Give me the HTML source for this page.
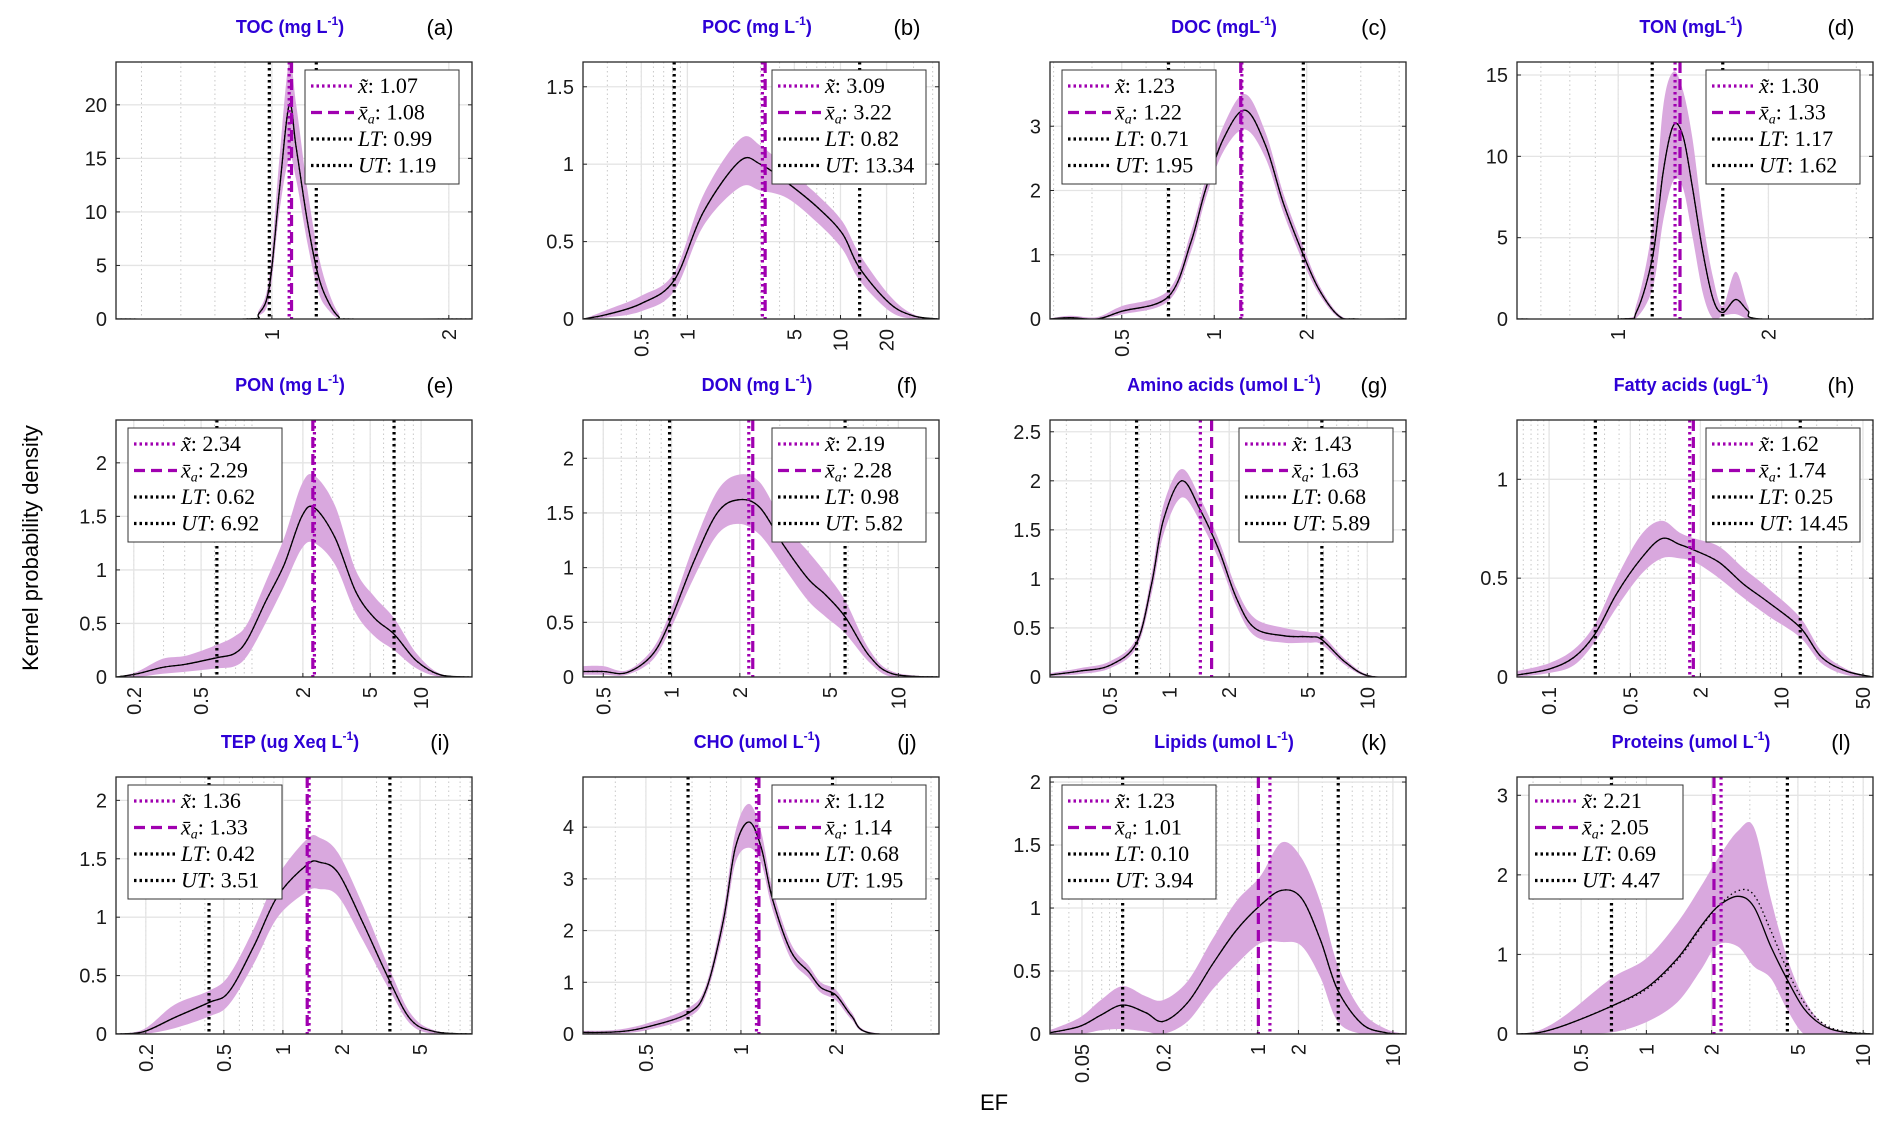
<!DOCTYPE html>
<html><head><meta charset="utf-8">
<style>
html,body{margin:0;padding:0;background:#fff;}
svg{display:block;}
</style></head>
<body>
<svg id="fig" width="1892" height="1130" viewBox="0 0 1892 1130" xmlns="http://www.w3.org/2000/svg">
<text x="0" y="0" transform="translate(38,548) rotate(-90)" text-anchor="middle" font-family="Liberation Sans, sans-serif" font-size="22" fill="#000">Kernel probability density</text>
<text x="994" y="1110" text-anchor="middle" font-family="Liberation Sans, sans-serif" font-size="22" fill="#000">EF</text>
</svg>
<script>
// ---- data arrays (x: EF, y: density) ----
const aX=[0.543,0.9,0.95,0.99,1.03,1.07,1.1,1.15,1.2,1.25,1.3,1.35,2.19];
const aY=[0,0,0.5,3,12,20,16,9,4,1.5,0.2,0,0];
const aHi=[0,0,0.8,4,15,24,20,12,6,2.5,0.5,0,0];
const aLo=[0,0,0.3,2,10,15,13,7,2.5,0.8,0,0,0];
const bX=[0.21,0.3,0.5,0.82,1.27,2.2,3.0,4.5,7.1,10.3,13.3,21,30,44];
const bY=[0,0.03,0.1,0.25,0.69,1.02,1.0,0.88,0.72,0.55,0.33,0.1,0.02,0];
const bHi=[0,0.06,0.15,0.3,0.8,1.16,1.12,0.97,0.8,0.63,0.42,0.15,0.03,0];
const bLo=[0,0.01,0.05,0.18,0.6,0.85,0.83,0.78,0.62,0.45,0.25,0.05,0,0];
const cX=[0.292,0.34,0.415,0.5,0.71,0.84,0.935,1.07,1.26,1.47,1.68,1.95,2.2,2.54,2.9,4.21];
const cY=[0,0.02,0.0,0.12,0.35,1.2,2.0,2.8,3.25,2.7,1.8,1.0,0.45,0.05,0,0];
const cHi=[0.01,0.05,0.03,0.2,0.45,1.35,2.15,3.0,3.5,2.9,1.95,1.12,0.52,0.08,0,0];
const cLo=[0,0,0,0.07,0.28,1.05,1.85,2.6,2.95,2.5,1.65,0.88,0.38,0.02,0,0];
const dX=[0.627,1.01,1.09,1.175,1.23,1.29,1.35,1.41,1.48,1.55,1.62,1.72,1.82,1.93,3.24];
const dY=[0,0,0.5,4,9,11.9,11.2,8,4,1.2,0.4,1.2,0.5,0,0];
const dHi=[0,0,1,6,13,15.2,14,11,6,2.5,0.8,2.9,0.8,0,0];
const dLo=[0,0,0.1,2,6,8.5,8,5,1.5,0,0.2,0.3,0,0,0];
const eX=[0.157,0.21,0.296,0.41,0.62,0.79,0.94,1.2,1.55,1.97,2.34,3.1,4.1,5.3,6.92,9.4,13,20];
const eY=[0,0.03,0.09,0.12,0.18,0.22,0.35,0.7,1.05,1.5,1.58,1.3,0.8,0.55,0.4,0.15,0.02,0];
const eHi=[0,0.05,0.17,0.2,0.3,0.38,0.5,0.88,1.3,1.8,1.88,1.6,1.0,0.75,0.55,0.22,0.03,0];
const eLo=[0,0,0.03,0.05,0.08,0.1,0.2,0.5,0.85,1.2,1.25,1.05,0.6,0.38,0.25,0.08,0,0];
const fX=[0.407,0.5,0.635,0.82,0.98,1.25,1.59,1.97,2.45,3.13,3.99,4.78,5.82,7.4,9.4,15.1];
const fY=[0.05,0.05,0.04,0.2,0.5,1.05,1.5,1.62,1.55,1.2,0.9,0.75,0.55,0.2,0.03,0];
const fHi=[0.1,0.1,0.06,0.25,0.58,1.2,1.7,1.85,1.78,1.4,1.15,0.95,0.7,0.26,0.05,0];
const fLo=[0.02,0.02,0.02,0.15,0.42,0.9,1.3,1.4,1.3,1.0,0.7,0.55,0.4,0.14,0,0];
const gX=[0.248,0.35,0.5,0.68,0.81,0.93,1.15,1.43,1.77,2.18,2.69,3.8,5.1,5.89,7.75,10.2,15.7];
const gY=[0.02,0.06,0.12,0.35,0.95,1.6,2.0,1.7,1.3,0.8,0.5,0.42,0.41,0.38,0.15,0.01,0];
const gHi=[0.04,0.09,0.16,0.4,1.05,1.75,2.12,1.82,1.4,0.9,0.6,0.5,0.46,0.43,0.18,0.02,0];
const gLo=[0.01,0.03,0.09,0.3,0.85,1.45,1.83,1.58,1.2,0.72,0.42,0.35,0.35,0.33,0.12,0,0];
const hX=[0.053,0.1,0.164,0.25,0.38,0.62,0.93,1.33,1.8,2.9,4.7,7.6,14.45,22,36,61];
const hY=[0.01,0.04,0.1,0.22,0.42,0.6,0.7,0.67,0.64,0.58,0.47,0.38,0.25,0.1,0.03,0];
const hHi=[0.03,0.07,0.14,0.27,0.5,0.72,0.79,0.73,0.7,0.66,0.55,0.45,0.3,0.13,0.04,0];
const hLo=[0,0.02,0.06,0.18,0.35,0.52,0.6,0.6,0.58,0.5,0.4,0.31,0.2,0.07,0.01,0];
const iX=[0.141,0.195,0.28,0.42,0.53,0.71,0.94,1.33,1.54,1.91,2.56,3.51,4.5,5.96,9.2];
const iY=[0,0.02,0.14,0.27,0.36,0.75,1.18,1.45,1.47,1.38,0.95,0.45,0.12,0.02,0];
const iHi=[0,0.04,0.25,0.37,0.5,0.9,1.35,1.67,1.68,1.55,1.1,0.55,0.17,0.03,0];
const iLo=[0,0,0.05,0.15,0.25,0.6,1.0,1.22,1.24,1.18,0.8,0.37,0.08,0,0];
const jX=[0.316,0.4,0.5,0.68,0.775,0.88,0.96,1.06,1.16,1.26,1.44,1.64,1.79,2.0,2.24,2.56,4.24];
const jY=[0.03,0.04,0.13,0.4,0.85,2.2,3.6,4.1,3.6,2.6,1.6,1.2,0.9,0.75,0.35,0.02,0];
const jHi=[0.06,0.08,0.2,0.5,0.95,2.4,3.9,4.45,3.9,2.8,1.75,1.32,1.0,0.85,0.42,0.04,0];
const jLo=[0.01,0.01,0.07,0.32,0.75,2.0,3.3,3.6,3.3,2.4,1.45,1.08,0.8,0.65,0.28,0.01,0];
const kX=[0.029,0.048,0.069,0.1,0.148,0.2,0.303,0.46,0.69,1.04,1.5,2.1,2.9,3.9,5.9,8.9,12.5];
const kY=[0.01,0.06,0.15,0.23,0.17,0.1,0.25,0.55,0.82,1.02,1.14,1.08,0.75,0.35,0.08,0.01,0];
const kHi=[0.03,0.13,0.27,0.38,0.3,0.27,0.42,0.75,1.05,1.25,1.52,1.4,1.05,0.55,0.18,0.04,0];
const kLo=[0,0,0.03,0.04,0.02,0,0.1,0.35,0.55,0.72,0.73,0.7,0.45,0.1,0,0,0];
const lX=[0.253,0.323,0.43,0.69,1.0,1.39,1.78,2.13,2.64,3.13,3.75,4.47,5.33,6.4,7.9,11.1];
const lY=[0,0.02,0.12,0.35,0.58,0.95,1.35,1.6,1.73,1.6,1.1,0.68,0.32,0.12,0.03,0];
const lAlt=[0,0.02,0.12,0.35,0.56,0.93,1.33,1.6,1.8,1.75,1.3,0.8,0.4,0.15,0.04,0];
const lHi=[0,0.05,0.25,0.7,0.95,1.4,1.85,2.2,2.55,2.6,1.7,0.95,0.45,0.15,0.04,0];
const lLo=[0,0,0,0.02,0.15,0.4,0.8,1.12,1.1,0.85,0.7,0.3,0,0,0,0];
// stats: median, mean, LT, UT
const statsA=[1.07,1.08,0.99,1.19], statsB=[3.09,3.22,0.82,13.34], statsC=[1.23,1.22,0.71,1.95], statsD=[1.30,1.33,1.17,1.62];
const statsE=[2.34,2.29,0.62,6.92], statsF=[2.19,2.28,0.98,5.82], statsG=[1.43,1.63,0.68,5.89], statsH=[1.62,1.74,0.25,14.45];
const statsI=[1.36,1.33,0.42,3.51], statsJ=[1.12,1.14,0.68,1.95], statsK=[1.23,1.01,0.10,3.94], statsL=[2.21,2.05,0.69,4.47];
const titles=["TOC (mg L","POC (mg L","DOC (mgL","TON (mgL","PON (mg L","DON (mg L","Amino acids (umol L","Fatty acids (ugL","TEP (ug Xeq L","CHO (umol L","Lipids (umol L","Proteins (umol L"];
const letters=["a","b","c","d","e","f","g","h","i","j","k","l"];
const xTicksA=[1,2], xTicksB=[0.5,1,5,10,20], xTicksC=[0.5,1,2], xTicksD=[1,2], xTicksE=[0.2,0.5,2,5,10], xTicksF=[0.5,1,2,5,10];
const xTicksG=[0.5,1,2,5,10], xTicksH=[0.1,0.5,2,10,50], xTicksI=[0.2,0.5,1,2,5], xTicksJ=[0.5,1,2], xTicksK=[0.05,0.2,1,2,10], xTicksL=[0.5,1,2,5,10];
const yTicksA=[0,5,10,15,20], yTicksB=[0,0.5,1,1.5], yTicksC=[0,1,2,3], yTicksD=[0,5,10,15], yTicksE=[0,0.5,1,1.5,2], yTicksF=[0,0.5,1,1.5,2];
const yTicksG=[0,0.5,1,1.5,2,2.5], yTicksH=[0,0.5,1], yTicksI=[0,0.5,1,1.5,2], yTicksJ=[0,1,2,3,4], yTicksK=[0,0.5,1,1.5,2], yTicksL=[0,1,2,3];
const xLimA=[0.543,2.19], xLimB=[0.208,44], xLimC=[0.292,4.21], xLimD=[0.627,3.24], xLimE=[0.157,20], xLimF=[0.407,15.1];
const xLimG=[0.248,15.7], xLimH=[0.053,61], xLimI=[0.141,9.2], xLimJ=[0.316,4.24], xLimK=[0.029,12.5], xLimL=[0.253,11.1];
const yMaxes=[24,1.66,4.0,15.8,2.4,2.35,2.62,1.3,2.2,4.97,2.04,3.23];

const series=[[aX,aY,aHi,aLo,null],[bX,bY,bHi,bLo,null],[cX,cY,cHi,cLo,null],[dX,dY,dHi,dLo,null],
 [eX,eY,eHi,eLo,null],[fX,fY,fHi,fLo,null],[gX,gY,gHi,gLo,null],[hX,hY,hHi,hLo,null],
 [iX,iY,iHi,iLo,null],[jX,jY,jHi,jLo,null],[kX,kY,kHi,kLo,null],[lX,lY,lHi,lLo,lAlt]];
const stats=[statsA,statsB,statsC,statsD,statsE,statsF,statsG,statsH,statsI,statsJ,statsK,statsL];
const xTicks=[xTicksA,xTicksB,xTicksC,xTicksD,xTicksE,xTicksF,xTicksG,xTicksH,xTicksI,xTicksJ,xTicksK,xTicksL];
const yTicks=[yTicksA,yTicksB,yTicksC,yTicksD,yTicksE,yTicksF,yTicksG,yTicksH,yTicksI,yTicksJ,yTicksK,yTicksL];
const xLims=[xLimA,xLimB,xLimC,xLimD,xLimE,xLimF,xLimG,xLimH,xLimI,xLimJ,xLimK,xLimL];
const legendLeft=[false,false,true,false,true,false,false,false,true,false,true,true];

const NS="http://www.w3.org/2000/svg";
const svg=document.getElementById('fig');
const colL=[116,583,1050,1517], rowT=[62,420,777], PW=356, PH=257;
const MAG="#a000b0";
function mk(tag,attrs,parent){const e=document.createElementNS(NS,tag);for(const k in attrs)e.setAttribute(k,attrs[k]);(parent||svg).appendChild(e);return e;}
function smooth(pts){
  if(pts.length<2)return"";
  let d="M"+pts[0][0].toFixed(1)+","+pts[0][1].toFixed(1);
  for(let i=0;i<pts.length-1;i++){
    const p0=pts[Math.max(0,i-1)],p1=pts[i],p2=pts[i+1],p3=pts[Math.min(pts.length-1,i+2)];
    const c1=[p1[0]+(p2[0]-p0[0])/6,p1[1]+(p2[1]-p0[1])/6];
    const c2=[p2[0]-(p3[0]-p1[0])/6,p2[1]-(p3[1]-p1[1])/6];
    d+=" C"+c1[0].toFixed(1)+","+c1[1].toFixed(1)+" "+c2[0].toFixed(1)+","+c2[1].toFixed(1)+" "+p2[0].toFixed(1)+","+p2[1].toFixed(1);
  }
  return d;
}
function fmt(v){return String(v);}

for(let p=0;p<12;p++){
  const L=colL[p%4], T=rowT[Math.floor(p/4)], B=T+PH, R=L+PW;
  const [x0,x1]=xLims[p]; const ymax=yMaxes[p];
  const lx0=Math.log10(x0), lx1=Math.log10(x1);
  const sx=v=>L+(Math.log10(v)-lx0)/(lx1-lx0)*PW;
  const sy=v=>B-v/ymax*PH;
  const g=mk('g',{});
  
  
  const cid='clip'+p;
  const cp=mk('clipPath',{id:cid},g); mk('rect',{x:L,y:T,width:PW,height:PH},cp);
  for(let e=Math.floor(lx0);e<=Math.ceil(lx1);e++){
    for(let k=1;k<10;k++){const v=k*Math.pow(10,e); if(v<=x0||v>=x1)continue;
      const ln=mk('line',{x1:sx(v),x2:sx(v),y1:T,y2:B,stroke:"#c8c8c8","stroke-width":1,"stroke-dasharray":"1.5,3"},g);
       }
  }
  xTicks[p].forEach(v=>{const ln=mk('line',{x1:sx(v),x2:sx(v),y1:T,y2:B,stroke:"#e4e4e4","stroke-width":1.3},g);
     });
  yTicks[p].forEach(v=>{const ln=mk('line',{x1:L,x2:R,y1:sy(v),y2:sy(v),stroke:"#e4e4e4","stroke-width":1.3},g);
     });
  const [X,Y,Hi,Lo,Alt]=series[p];
  const cg=mk('g',{"clip-path":"url(#"+cid+")"},g);
  const up=X.map((v,i)=>[sx(v),sy(Hi[i])]);
  const dn=X.map((v,i)=>[sx(v),sy(Lo[i])]).reverse();
  let dband=smooth(up)+" L"+smooth(dn).slice(1)+" Z";
  const band=mk('path',{d:dband,fill:"#d9a8de",stroke:"none"},cg);
   
  const altY=Alt||Y;
  const dc=mk('path',{d:smooth(X.map((v,i)=>[sx(v),sy(altY[i])])),fill:"none",stroke:"#000","stroke-width":1.3,"stroke-dasharray":"1.5,3"},cg);
   
  const mc=mk('path',{d:smooth(X.map((v,i)=>[sx(v),sy(Y[i])])),fill:"none",stroke:"#000","stroke-width":1.3},cg);
   
  const st=stats[p];
  const vl=(v,col,dash,name)=>{const ln=mk('line',{x1:sx(v),x2:sx(v),y1:T,y2:B,stroke:col,"stroke-width":3.2,"stroke-dasharray":dash},cg);
     };
  vl(st[2],"#000","2.5,3.5",'lt-line');
  vl(st[3],"#000","2.5,3.5",'ut-line');
  vl(st[1],MAG,"11,6",'mean-line');
  vl(st[0],MAG,"2.5,3.5",'median-line');
  const box=mk('rect',{x:L,y:T,width:PW,height:PH,fill:"none",stroke:"#262626","stroke-width":1.3},g);
   
  yTicks[p].forEach(v=>{
    mk('line',{x1:L,x2:L+4,y1:sy(v),y2:sy(v),stroke:"#262626"},g);
    mk('line',{x1:R,x2:R-4,y1:sy(v),y2:sy(v),stroke:"#262626"},g);
    const t=mk('text',{x:L-9,y:sy(v)+7,"text-anchor":"end","font-family":"Liberation Sans, sans-serif","font-size":20,fill:"#1a1a1a"},g);
     
    t.textContent=fmt(v);
  });
  xTicks[p].forEach(v=>{
    mk('line',{x1:sx(v),x2:sx(v),y1:B,y2:B-4,stroke:"#262626"},g);
    const t=mk('text',{x:0,y:0,transform:"translate("+(sx(v)+7)+","+(B+10)+") rotate(-90)","text-anchor":"end","font-family":"Liberation Sans, sans-serif","font-size":20,fill:"#1a1a1a"},g);
     
    t.textContent=fmt(v);
  });
  const ty=T-29;
  const tt=mk('text',{x:L+PW/2-4,y:ty,"text-anchor":"middle","font-family":"Liberation Sans, sans-serif","font-size":18,"font-weight":"bold",fill:"#2d00d6"},g);
   
  tt.textContent=titles[p];
  const sup=mk('tspan',{dy:-8,"font-size":12},tt); sup.textContent="-1";
  const cl=mk('tspan',{dy:8},tt); cl.textContent=")";
  const lab=mk('text',{x:R-32,y:ty+2,"text-anchor":"middle","font-family":"Liberation Sans, sans-serif","font-size":22,fill:"#000"},g);
   
  lab.textContent="("+letters[p]+")";
  const LWd=154, LHt=114;
  const lxp=legendLeft[p]?L+12:R-13-LWd, lyp=T+8;
  const lg=mk('g',{},g);
   
  mk('rect',{x:lxp,y:lyp,width:LWd,height:LHt,fill:"#fff",stroke:"#333","stroke-width":1},lg);
  const labels=[["x̃",""],["x̄","a"],["LT",""],["UT",""]];
  const cols=[MAG,MAG,"#000","#000"], dashes=["2.5,3","11,6","2.5,3","2.5,3"];
  const nums=[st[0],st[1],st[2],st[3]].map(v=>v.toFixed(2));
  for(let r=0;r<4;r++){
    const yy=lyp+16+r*26.5;
    const en=mk('g',{},lg);
     
    mk('line',{x1:lxp+6,x2:lxp+49,y1:yy,y2:yy,stroke:cols[r],"stroke-width":3.2,"stroke-dasharray":dashes[r]},en);
    const t=mk('text',{x:lxp+53,y:yy+7,"font-family":"Liberation Serif, serif","font-size":22,fill:"#000"},en);
    const s1=mk('tspan',{"font-style":"italic"},t); s1.textContent=labels[r][0];
    if(labels[r][1]){const s2=mk('tspan',{"font-style":"italic","font-size":14,dy:4},t); s2.textContent=labels[r][1];
      const s3=mk('tspan',{dy:-4},t); s3.textContent=": "+nums[r];}
    else{const s3=mk('tspan',{},t); s3.textContent=": "+nums[r];}
  }
}
</script>
</body></html>
